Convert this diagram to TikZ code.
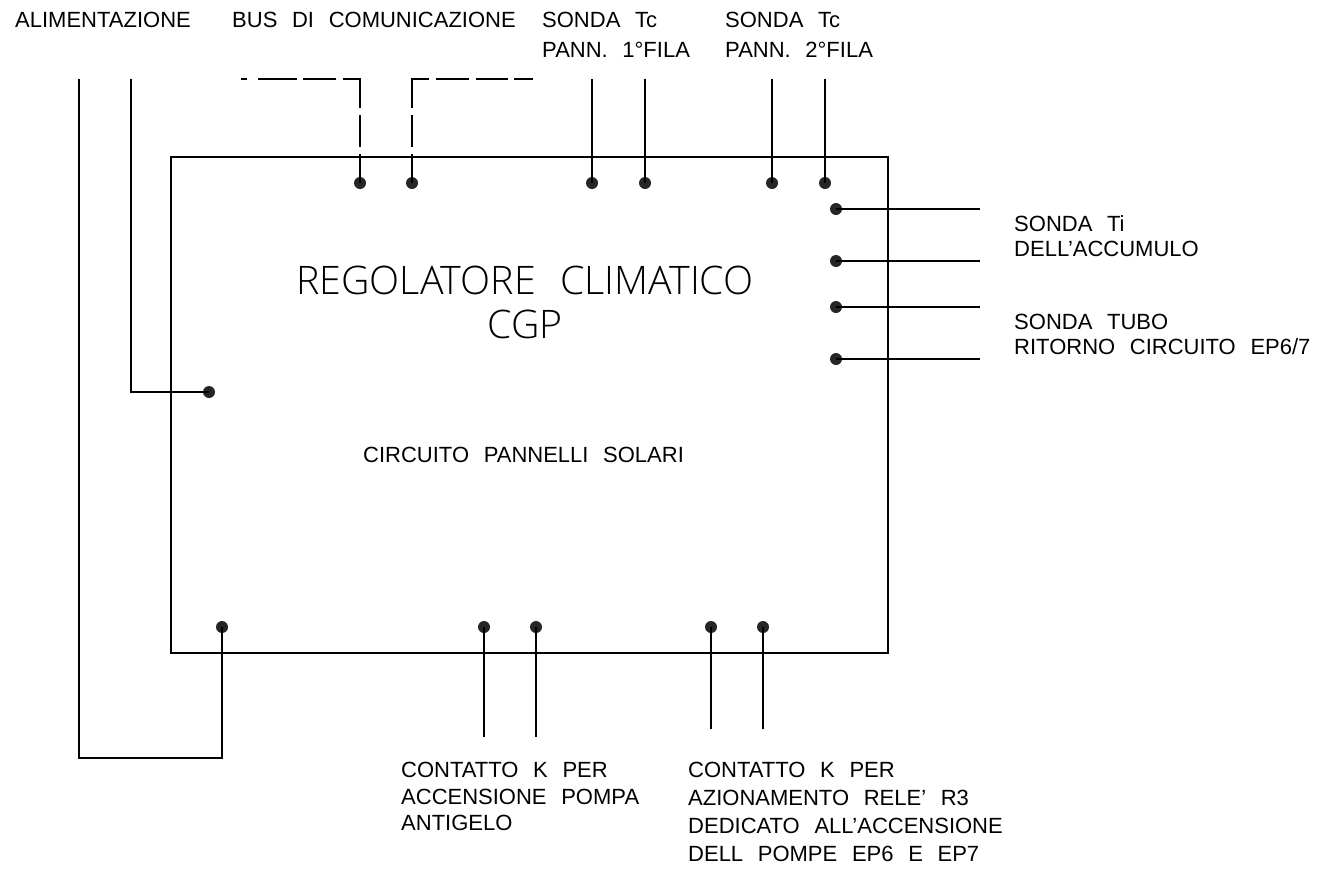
\documentclass[tikz,border=0pt]{standalone}
\usepackage{fontspec}
\setmainfont[WordSpace=2.4]{Liberation Sans}
\newfontfamily\titlefont[WordSpace=2.4]{Open Sans Light}
\tikzset{
  wire/.style={line width=1.6pt,line join=miter},
  dot/.style={circle,fill=black!85,inner sep=0pt,minimum size=12pt},
  lbl/.style={anchor=north west,inner sep=0pt,align=left,font=\fontsize{22}{#1}\selectfont},
  lbl/.default=28,
  title/.style={inner sep=0pt,align=center,font=\titlefont\fontsize{39.3}{44}\selectfont},
  panel/.style={draw,line width=1.6pt,inner sep=0pt,outer sep=0pt,anchor=north west,minimum width=717pt,minimum height=496pt},
  busL/.style={wire,dash pattern=on 29pt off 7pt on 32pt off 7pt on 46pt off 7pt on 33pt off 6pt on 39pt off 11pt on 8pt},
  busR/.style={wire,dash pattern=on 29pt off 7pt on 32pt off 7pt on 46pt off 7pt on 33pt off 7pt on 32pt off 6pt on 19pt}
}
\begin{document}
\begin{tikzpicture}[x=1pt,y=-1pt]
\useasboundingbox (0,0) rectangle (1331,868);
\node[panel] (box) at (171,157) {};
% terminals
\foreach \n/\x/\y in {t1/360/183,t2/412/183,t3/592/183,t4/645/183,t5/772/183,t6/825/183,
  r1/836/209,r2/836/261,r3/836/307,r4/836/359,l1/209/392,
  b1/222/627,b2/484/627,b3/536/627,b4/711/627,b5/763/627}
  \node[dot] (\n) at (\x,\y) {};
% free ends
\foreach \n/\x/\y in {et3/592/79,et4/645/79,et5/772/79,et6/825/79,
  er1/980/209,er2/980/261,er3/980/307,er4/980/359,
  eb2/484/737,eb3/536/737,eb4/711/729,eb5/763/729,
  cl/131/392,el/131/79,cb/222/758,cc/79/758,ec/79/79,
  c1/360/79,e1/241/79,c2/412/79,e2/533/79}
  \coordinate (\n) at (\x,\y);
\foreach \a/\b in {t3/et3,t4/et4,t5/et5,t6/et6,r1/er1,r2/er2,r3/er3,r4/er4,b2/eb2,b3/eb3,b4/eb4,b5/eb5}
  \draw[wire] (\a.center) -- (\b);
\draw[wire] (l1.center) -- (cl) -- (el);
\draw[wire] (b1.center) -- (cb) -- (cc) -- (ec);
\draw[busL] (t1.center) -- (c1) -- (e1);
\draw[busR] (t2.center) -- (c2) -- (e2);
% labels
\node[lbl] (a) at (15,12) {ALIMENTAZIONE};
\node[lbl] (b) at (232,12) {BUS DI COMUNICAZIONE};
\node[lbl=30] (c) at (542,12) {SONDA Tc\\PANN. 1°FILA};
\node[lbl=30] (d) at (725,12) {SONDA Tc\\PANN. 2°FILA};
\node[lbl=25] (e) at (1014,215) {SONDA Ti\\DELL’ACCUMULO};
\node[lbl=25] (f) at (1014,314) {SONDA TUBO\\RITORNO CIRCUITO EP6/7};
\node[title] (g) at (525,302) {REGOLATORE CLIMATICO\\CGP};
\node[lbl] (h) at (363,447) {CIRCUITO PANNELLI SOLARI};
\node[lbl=26.5] (i) at (401,762) {CONTATTO K PER\\ACCENSIONE POMPA\\ANTIGELO};
\node[lbl=28] (j) at (688,762) {CONTATTO K PER\\AZIONAMENTO RELE’ R3\\DEDICATO ALL’ACCENSIONE\\DELL POMPE EP6 E EP7};
\end{tikzpicture}
\end{document}
